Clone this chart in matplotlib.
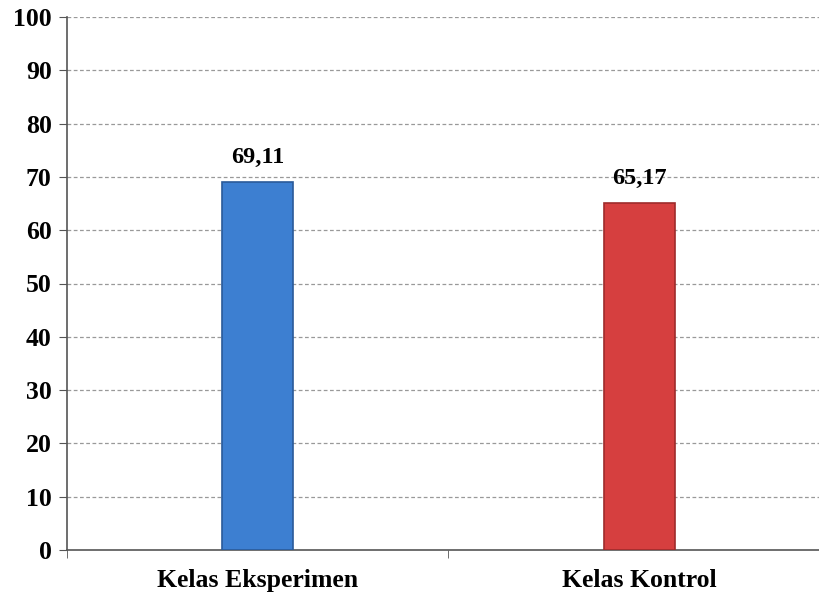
import matplotlib
matplotlib.use('Agg')
import matplotlib.pyplot as plt
import numpy as np

categories = ['Kelas Eksperimen', 'Kelas Kontrol']
values = [69.11, 65.17]
value_labels = ['69,11', '65,17']
bar_colors = ['#3d7fd1', '#d63f3f']
edge_colors = ['#2a5a99', '#9e2b2b']
yticks = list(range(0, 101, 10))

plt.rcParams['font.family'] = ['Liberation Serif', 'DejaVu Serif']
plt.rcParams['font.weight'] = 'bold'

fig = plt.figure(figsize=(8.2, 5.96), dpi=100)
ax = fig.add_axes([67/820, 1 - 550/596, (820 - 67)/820, (550 - 17)/596])

x = np.arange(len(categories))
bars = ax.bar(x, values, width=0.185, color=bar_colors, edgecolor=edge_colors, linewidth=1.2, zorder=3)

for xi, v, lab in zip(x, values, value_labels):
    ax.text(xi, v + 2.6, lab, ha='center', va='bottom', fontsize=17.5, fontweight='bold')

ax.set_ylim(0, 100)
ax.set_xlim(-0.5, 1.5 - 10/382)
ax.set_yticks(yticks)
ax.set_xticks(x)
ax.set_xticklabels(categories)
ax.set_xticks([-0.5, 0.5], minor=True)
ax.tick_params(axis='x', which='major', length=0, pad=14, labelsize=18.5)
ax.tick_params(axis='x', which='minor', length=6, direction='out', color='#555555')
ax.tick_params(axis='y', length=6, direction='out', color='#555555', labelsize=18.5, pad=5)

for t in yticks[1:]:
    ax.axhline(t, color='#999999', linestyle=(0, (3, 2)), linewidth=0.9, zorder=1)

for s in ['top', 'right']:
    ax.spines[s].set_visible(False)
ax.spines['left'].set_color('#555555')
ax.spines['bottom'].set_color('#555555')
ax.spines['left'].set_linewidth(1.2)
ax.spines['bottom'].set_linewidth(1.2)

fig.savefig('out.png', dpi=100)
